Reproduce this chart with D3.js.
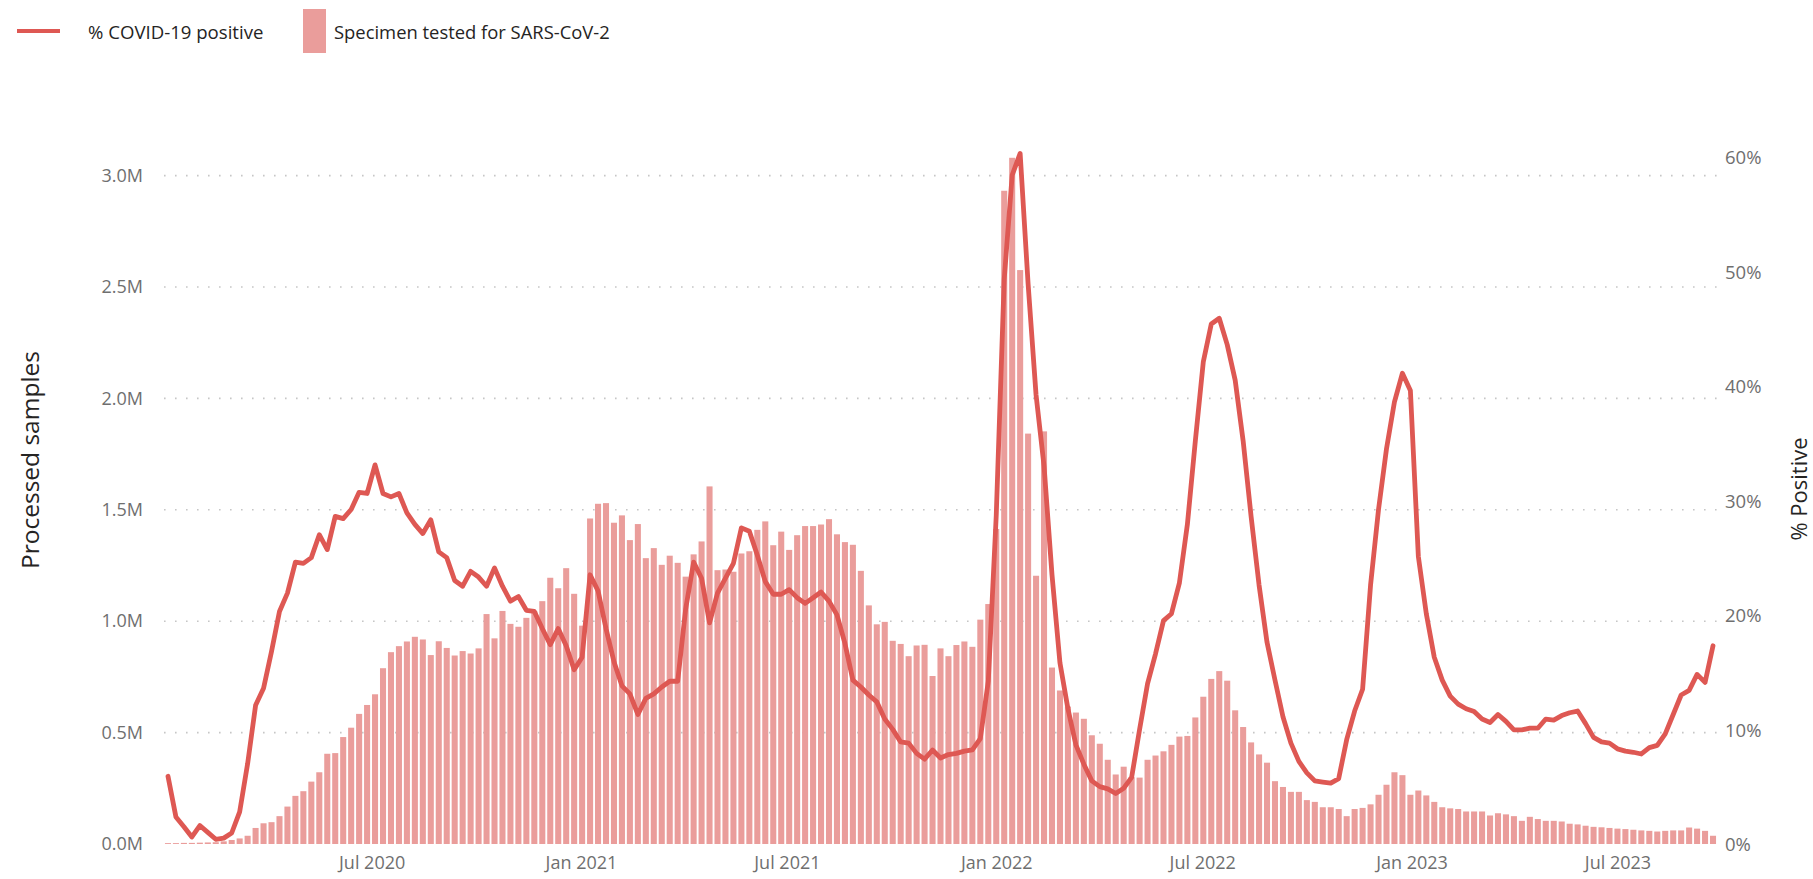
<!DOCTYPE html>
<html><head><meta charset="utf-8">
<script src="https://cdn.jsdelivr.net/npm/d3@7"></script>
<style>html,body{margin:0;padding:0;background:#fff;} svg{display:block;font-family:"Open Sans",sans-serif;}</style>
</head><body><svg id="chart" width="1813" height="879"></svg>
<script>
// Weekly data, first week ending 2020-01-04
const firstWeekEnding = "2020-01-04";

// Specimens tested for SARS-CoV-2 (thousands), by year
const specimens2020 = [4,4,5,5,6,7,8,12,18,25, 37,72,93,98,125,168,216,237,280,322, 405,408,480,522,584,624,672,789,861,888, 909,930,918,848,910,880,846,866,855,878, 1032,923,1046,988,975,1015,1045,1090,1195,1148, 1238,1123];
const specimens2021 = [980,1461,1527,1530,1442,1475,1364,1436,1283,1328, 1253,1294,1262,1200,1300,1358,1605,1229,1232,1222, 1304,1314,1410,1448,1341,1402,1320,1386,1427,1427, 1434,1458,1390,1355,1343,1226,1071,986,997,912, 898,843,891,894,754,878,843,893,909,885, 1007,1077];
const specimens2022 = [1414,2932,3080,2576,1842,1204,1852,792,689,617, 590,562,488,450,378,312,347,300,298,378, 397,416,445,482,485,568,661,741,776,733, 600,525,456,402,365,282,256,234,234,197, 189,165,165,157,125,157,162,178,221,266, 322,309];
const specimens2023 = [221,240,218,189,165,160,157,146,146,146, 128,138,133,125,104,122,112,104,104,101, 91,88,82,77,75,72,69,67,64,61, 59,56,59,61,61,74,69,59,37];

// % COVID-19 positive, by year
const positive2020 = [6.0,2.45,1.6,0.7,1.7,1.1,0.5,0.6,1.05,2.9, 7.1,12.2,13.7,16.9,20.4,22.0,24.7,24.6,25.1,27.1, 25.8,28.7,28.5,29.3,30.8,30.7,33.2,30.7,30.4,30.7, 29.0,28.0,27.2,28.4,25.6,25.1,23.1,22.6,23.9,23.4, 22.6,24.2,22.6,21.3,21.7,20.5,20.4,18.9,17.5,18.9, 17.4,15.3];
const positive2021 = [16.4,23.6,22.2,18.9,16.0,13.9,13.2,11.4,12.8,13.2, 13.8,14.3,14.3,20.6,24.7,23.3,19.4,22.0,23.3,24.6, 27.7,27.4,25.3,23.0,21.9,21.9,22.3,21.6,21.1,21.6, 22.1,21.3,20.1,17.6,14.4,13.8,13.1,12.5,11.0,10.1, 9.0,8.9,8.0,7.5,8.3,7.6,7.9,8.0,8.2,8.3, 9.3,14.3];
const positive2022 = [28.8,49.4,58.5,60.4,49.0,39.3,33.1,23.6,15.9,11.9, 8.75,7.06,5.6,5.1,4.9,4.5,4.96,5.9,10.1,14.1, 16.7,19.6,20.2,22.9,28.0,35.3,42.2,45.5,46.0,43.7, 40.6,35.3,28.7,22.7,17.7,14.4,11.2,8.9,7.3,6.3, 5.6,5.5,5.4,5.8,9.2,11.7,13.6,22.7,29.3,34.6, 38.7,41.2];
const positive2023 = [39.7,25.2,20.2,16.4,14.4,13.0,12.3,11.9,11.65,11.0, 10.7,11.4,10.8,10.05,10.05,10.2,10.2,11.0,10.9,11.3, 11.55,11.7,10.6,9.4,9.0,8.9,8.4,8.2,8.1,7.95, 8.5,8.7,9.7,11.4,13.1,13.5,14.9,14.2,17.4];

const xTickLabels = ["Jul 2020","Jan 2021","Jul 2021","Jan 2022","Jul 2022","Jan 2023","Jul 2023"];
const leftTicks = [0,500,1000,1500,2000,2500,3000];
const rightTicks = [0,10,20,30,40,50,60];
const legendLabels = ["% COVID-19 positive", "Specimen tested for SARS-CoV-2"];
const axisTitles = {left: "Processed samples", right: "% Positive"};

const specimens = [].concat(specimens2020, specimens2021, specimens2022, specimens2023);
const positivity = [].concat(positive2020, positive2021, positive2022, positive2023);
const start = d3.timeParse("%Y-%m-%d")(firstWeekEnding);
const data = specimens.map((s, i) => ({date: d3.timeDay.offset(start, 7 * i), specimens: s, pct: positivity[i]}));

const LINE = "#DE5853", BAR = "#EA9D9B", TICK = "#6f6f6f", TITLE = "#252423";
const svg = d3.select("#chart");
svg.append("rect").attr("width", 1813).attr("height", 879).attr("fill", "#fff");

const x = d3.scaleTime()
  .domain([d3.timeHour.offset(data[0].date, -84), d3.timeHour.offset(data[data.length - 1].date, 84)])
  .range([164, 1717]);
const yL = d3.scaleLinear().domain([0, 3000]).range([844, 175.6]);
const yR = d3.scaleLinear().domain([0, 60]).range([845, 158]);

// gridlines
svg.append("g").selectAll("line").data(leftTicks.filter(t => t > 0)).join("line")
  .attr("x1", 164).attr("x2", 1717)
  .attr("y1", d => yL(d)).attr("y2", d => yL(d))
  .attr("stroke", "#c6c6c6").attr("stroke-width", 1.6).attr("stroke-dasharray", "1.6 9.4");

// bars
const weekPx = x(d3.timeDay.offset(data[0].date, 7)) - x(data[0].date);
const bw = weekPx * 0.76;
svg.append("g").selectAll("rect").data(data).join("rect")
  .attr("x", d => x(d.date) - bw / 2).attr("width", bw)
  .attr("y", d => yL(d.specimens)).attr("height", d => yL(0) - yL(d.specimens))
  .attr("fill", BAR);

// line
svg.append("path").datum(data)
  .attr("d", d3.line().x(d => x(d.date)).y(d => yR(d.pct)))
  .attr("fill", "none").attr("stroke", LINE).attr("stroke-width", 4.8)
  .attr("stroke-linejoin", "round").attr("stroke-linecap", "round");

// x axis
const fmtTime = d3.timeParse("%b %Y");
const gx = svg.append("g").attr("transform", "translate(0,844)")
  .call(d3.axisBottom(x).tickValues(xTickLabels.map(fmtTime)).tickFormat(d3.timeFormat("%b %Y")).tickSize(0).tickPadding(12));
gx.select(".domain").remove();
gx.selectAll("text").attr("fill", TICK).style("font-size", "18px").style("font-family", "Open Sans");

// left axis
const gl = svg.append("g").attr("transform", "translate(143,0)")
  .call(d3.axisLeft(yL).tickValues(leftTicks).tickFormat(d => (d / 1000).toFixed(1) + "M").tickSize(0).tickPadding(0));
gl.select(".domain").remove();
gl.selectAll("text").attr("fill", TICK).style("font-size", "18px").style("font-family", "Open Sans");

// right axis
const gr = svg.append("g").attr("transform", "translate(1725,0)")
  .call(d3.axisRight(yR).tickValues(rightTicks).tickFormat(d => d + "%").tickSize(0).tickPadding(0));
gr.select(".domain").remove();
gr.selectAll("text").attr("fill", TICK).style("font-size", "18.5px").style("font-family", "Open Sans");

// axis titles
svg.append("text").attr("transform", "translate(29,460) rotate(-90)")
  .attr("text-anchor", "middle").attr("dominant-baseline", "central")
  .attr("fill", TITLE).style("font-size", "24.5px").text(axisTitles.left);
svg.append("text").attr("transform", "translate(1798,489) rotate(-90)")
  .attr("text-anchor", "middle").attr("dominant-baseline", "central")
  .attr("fill", TITLE).style("font-size", "22px").text(axisTitles.right);

// legend
const lg = svg.append("g");
lg.append("line").attr("x1", 17).attr("x2", 60).attr("y1", 31).attr("y2", 31)
  .attr("stroke", LINE).attr("stroke-width", 4);
lg.append("text").attr("x", 88).attr("y", 31).attr("dominant-baseline", "central")
  .attr("fill", TITLE).style("font-size", "18.6px").text(legendLabels[0]);
lg.append("rect").attr("x", 303).attr("y", 9).attr("width", 23).attr("height", 44).attr("fill", BAR);
lg.append("text").attr("x", 334).attr("y", 31).attr("dominant-baseline", "central")
  .attr("fill", TITLE).style("font-size", "18.4px").text(legendLabels[1]);
</script></body></html>
